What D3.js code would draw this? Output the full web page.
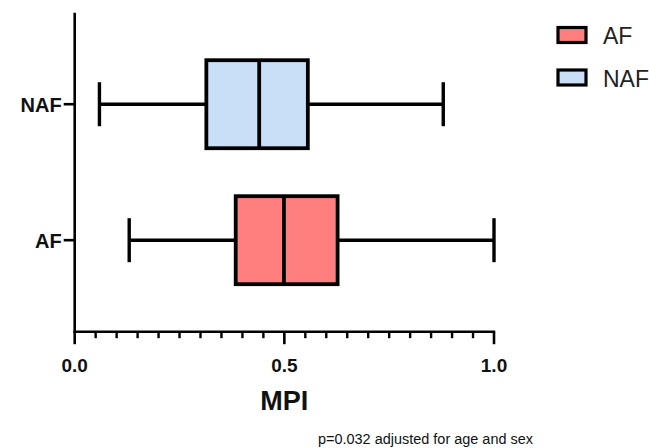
<!DOCTYPE html>
<meta charset="utf-8">
<style>
  body { margin: 0; background: #fff; }
  text { font-family: "Liberation Sans", Arial, sans-serif; }
</style>
<body>
<svg class="chart"></svg>
<script src="https://d3js.org/d3.v7.min.js"></script>
<script>

// Data (MPI box plots)
var groups = ["AF", "NAF"];
var whiskerLow = [0.130, 0.059];
var q1 = [0.384, 0.314];
var median = [0.499, 0.440];
var q3 = [0.627, 0.556];
var whiskerHigh = [1.0, 0.879];
var fills = ["#ff7f7f", "#c9dff7"];
var xTicks = [0, 0.5, 1.0];

var boxes = groups.map(function(g, i) {
  return { name: g, lo: whiskerLow[i], q1: q1[i], med: median[i], q3: q3[i], hi: whiskerHigh[i], fill: fills[i] };
});

var width = 649, height = 448;
var svg = d3.select(".chart").attr("width", width).attr("height", height);

var x = d3.scaleLinear().domain([0, 1]).range([74.7, 494]);
var y = d3.scalePoint().domain(groups).range([331.7, 12.7]).padding(0.673);

var boxH = 88, capH = 44;

// x axis: major ticks with labels, minor every 0.05
var xAxis = svg.append("g").attr("transform", "translate(0,331.7)");
xAxis.append("line")
    .attr("x1", x(0) - 1.2).attr("x2", x(1) + 1.2)
    .attr("stroke", "#000").attr("stroke-width", 2.6);
xAxis.selectAll(".minor")
    .data(d3.range(1, 20).map(function(i) { return i * 0.05; }).filter(function(v) { return Math.abs(v - 0.5) > 1e-6; }))
  .enter().append("line")
    .attr("x1", function(d) { return x(d); }).attr("x2", function(d) { return x(d); })
    .attr("y1", 0).attr("y2", 6.5)
    .attr("stroke", "#000").attr("stroke-width", 2.4);
xAxis.selectAll(".major")
    .data(xTicks)
  .enter().append("line")
    .attr("x1", function(d) { return x(d); }).attr("x2", function(d) { return x(d); })
    .attr("y1", 0).attr("y2", 12.5)
    .attr("stroke", "#000").attr("stroke-width", 2.6);
xAxis.selectAll(".lbl")
    .data(xTicks)
  .enter().append("text")
    .attr("x", function(d) { return x(d); })
    .attr("y", 40.5)
    .attr("text-anchor", "middle")
    .style("font-size", "19px").style("font-weight", "bold").attr("fill", "#111")
    .text(function(d) { return d3.format(".1f")(d); });

svg.append("text")
    .attr("x", x(0.5)).attr("y", 410)
    .attr("text-anchor", "middle")
    .style("font-size", "27px").style("font-weight", "bold").attr("fill", "#111")
    .text("MPI");

// y axis
svg.append("line")
    .attr("x1", x(0)).attr("x2", x(0))
    .attr("y1", 12.7).attr("y2", 333)
    .attr("stroke", "#000").attr("stroke-width", 2.6);
svg.selectAll(".ytick")
    .data(groups)
  .enter().append("line")
    .attr("x1", x(0) - 11).attr("x2", x(0))
    .attr("y1", function(d) { return y(d); }).attr("y2", function(d) { return y(d); })
    .attr("stroke", "#000").attr("stroke-width", 2.6);
svg.selectAll(".ylbl")
    .data(groups)
  .enter().append("text")
    .attr("x", x(0) - 13).attr("y", function(d) { return y(d) + 7.5; })
    .attr("text-anchor", "end")
    .style("font-size", "20px").style("font-weight", "bold").attr("fill", "#111")
    .text(function(d) { return d; });

// box plots
var bp = svg.selectAll(".box").data(boxes).enter().append("g");
bp.append("line")
    .attr("x1", function(d) { return x(d.lo); }).attr("x2", function(d) { return x(d.q1); })
    .attr("y1", function(d) { return y(d.name); }).attr("y2", function(d) { return y(d.name); })
    .attr("stroke", "#000").attr("stroke-width", 3.4);
bp.append("line")
    .attr("x1", function(d) { return x(d.q3); }).attr("x2", function(d) { return x(d.hi); })
    .attr("y1", function(d) { return y(d.name); }).attr("y2", function(d) { return y(d.name); })
    .attr("stroke", "#000").attr("stroke-width", 3.4);
["lo", "hi"].forEach(function(k) {
  bp.append("line")
      .attr("x1", function(d) { return x(d[k]); }).attr("x2", function(d) { return x(d[k]); })
      .attr("y1", function(d) { return y(d.name) - capH / 2; }).attr("y2", function(d) { return y(d.name) + capH / 2; })
      .attr("stroke", "#000").attr("stroke-width", 3.4);
});
bp.append("rect")
    .attr("x", function(d) { return x(d.q1); })
    .attr("y", function(d) { return y(d.name) - boxH / 2; })
    .attr("width", function(d) { return x(d.q3) - x(d.q1); })
    .attr("height", boxH)
    .attr("fill", function(d) { return d.fill; })
    .attr("stroke", "#000").attr("stroke-width", 3.8);
bp.append("line")
    .attr("x1", function(d) { return x(d.med); }).attr("x2", function(d) { return x(d.med); })
    .attr("y1", function(d) { return y(d.name) - boxH / 2; }).attr("y2", function(d) { return y(d.name) + boxH / 2; })
    .attr("stroke", "#000").attr("stroke-width", 3.8);

// legend
var legend = svg.selectAll(".leg").data(boxes).enter().append("g")
    .attr("transform", function(d, i) { return "translate(558," + (27.5 + i * 42.5) + ")"; });
legend.append("rect")
    .attr("width", 28).attr("height", 15)
    .attr("fill", function(d) { return d.fill; })
    .attr("stroke", "#000").attr("stroke-width", 3.2);
legend.append("text")
    .attr("x", 45).attr("y", 16.5)
    .style("font-size", "23px").attr("fill", "#222")
    .text(function(d) { return d.name; });

// footnote
svg.append("text")
    .attr("x", 318).attr("y", 444)
    .attr("textLength", 215).attr("lengthAdjust", "spacingAndGlyphs")
    .style("font-size", "14px").attr("fill", "#111")
    .text("p=0.032 adjusted for age and sex");

</script>
</body>
